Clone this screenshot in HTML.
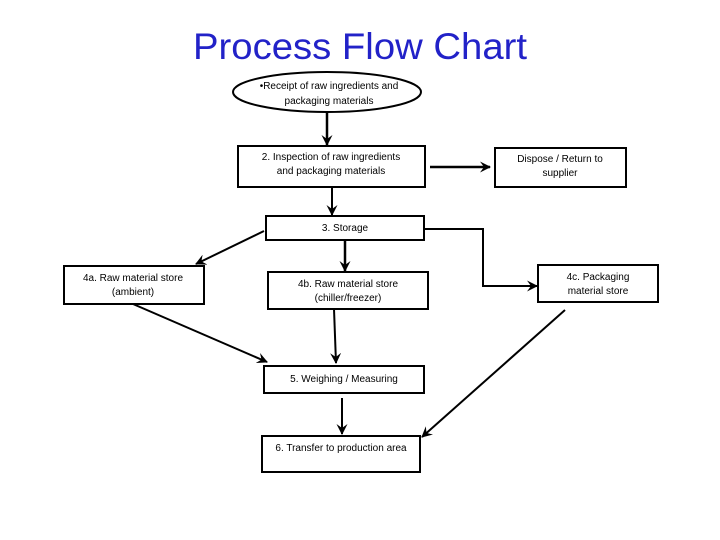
<!DOCTYPE html>
<html><head><style>body{margin:0;background:#fff}svg{display:block}</style></head><body>
<svg width="720" height="540" viewBox="0 0 720 540" xmlns="http://www.w3.org/2000/svg" font-family="Liberation Sans, sans-serif">
<defs><marker id="a" markerWidth="11" markerHeight="11" refX="10" refY="5.5" orient="auto" markerUnits="userSpaceOnUse"><path d="M0,0 L11,5.5 L0,11 L4,5.5 Z" fill="#000"/></marker></defs>
<text x="360" y="59" text-anchor="middle" font-size="37" fill="#2222c8" textLength="334" lengthAdjust="spacingAndGlyphs">Process Flow Chart</text>
<g fill="none" stroke="#000" stroke-width="2">
<ellipse cx="327" cy="92" rx="94" ry="20" fill="#fff"/>
<rect x="238" y="146" width="187" height="41"/>
<rect x="495" y="148" width="131" height="39"/>
<rect x="266" y="216" width="158" height="24"/>
<rect x="64" y="266" width="140" height="38"/>
<rect x="268" y="272" width="160" height="37"/>
<rect x="538" y="265" width="120" height="37"/>
<rect x="264" y="366" width="160" height="27"/>
<rect x="262" y="436" width="158" height="36"/>
</g>
<g fill="none" stroke="#000" stroke-width="2" marker-end="url(#a)">
<line x1="327" y1="112" x2="327" y2="145" stroke-width="2.5"/>
<line x1="430" y1="167" x2="490" y2="167" stroke-width="2.5"/>
<line x1="332" y1="187" x2="332" y2="215"/>
<polyline points="424,229 483,229 483,286 537,286"/>
<line x1="264" y1="231" x2="196" y2="264"/>
<line x1="345" y1="240" x2="345" y2="271" stroke-width="2.5"/>
<line x1="133" y1="304" x2="267" y2="362"/>
<line x1="334" y1="309" x2="336" y2="363"/>
<line x1="342" y1="398" x2="342" y2="434"/>
<line x1="565" y1="310" x2="422" y2="437"/>
</g>
<g font-size="10" text-anchor="middle" fill="#000">
<text x="329" y="89">•Receipt of raw ingredients and</text>
<text x="329" y="104">packaging materials</text>
<text x="331" y="160">2. Inspection of raw ingredients</text>
<text x="331" y="174">and packaging materials</text>
<text x="560" y="162">Dispose / Return to</text>
<text x="560" y="176">supplier</text>
<text x="345" y="231">3. Storage</text>
<text x="133" y="281">4a. Raw material store</text>
<text x="133" y="295">(ambient)</text>
<text x="348" y="287">4b. Raw material store</text>
<text x="348" y="301">(chiller/freezer)</text>
<text x="598" y="280">4c. Packaging</text>
<text x="598" y="294">material store</text>
<text x="344" y="382">5. Weighing / Measuring</text>
<text x="341" y="451">6. Transfer to production area</text>
</g>
</svg>
</body></html>
